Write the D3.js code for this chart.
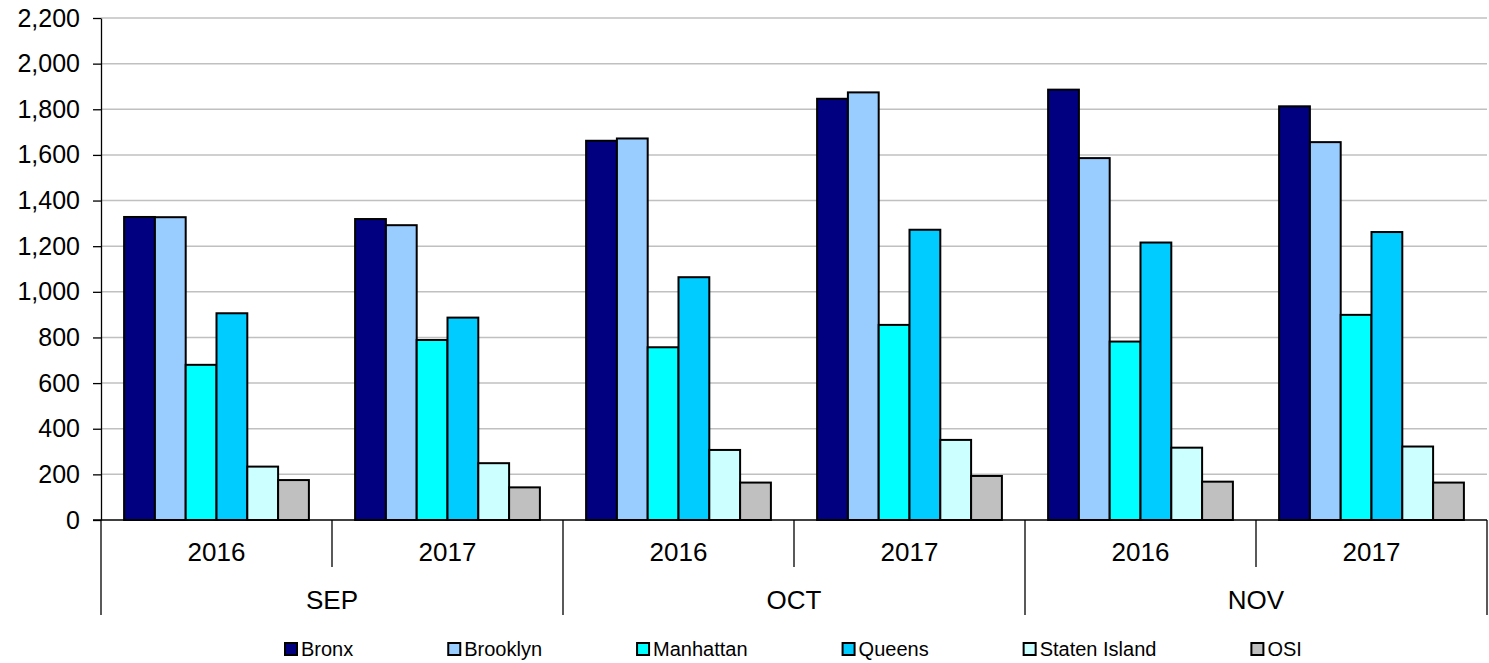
<!DOCTYPE html>
<meta charset="utf-8">
<html>
<head>
<script src="https://d3js.org/d3.v7.min.js"></script>
<style>
  body { margin: 0; background: #fff; }
  text { font-family: "Liberation Sans", Arial, sans-serif; fill: #000; }
</style>
</head>
<body>
<div id="chart"></div>
<script>

// data
var months = ["SEP", "OCT", "NOV"];
var years = ["2016", "2017"];
var series = ["Bronx", "Brooklyn", "Manhattan", "Queens", "Staten Island", "OSI"];

var bronx     = [1328, 1319, 1662, 1846, 1886, 1813];
var brooklyn  = [1327, 1292, 1672, 1874, 1586, 1656];
var manhattan = [680, 789, 757, 855, 782, 899];
var queens    = [906, 887, 1064, 1272, 1216, 1262];
var staten    = [234, 249, 307, 351, 317, 322];
var osi       = [175, 143, 164, 193, 168, 164];

var yTicks = [0, 200, 400, 600, 800, 1000, 1200, 1400, 1600, 1800, 2000, 2200];

var values = [bronx, brooklyn, manhattan, queens, staten, osi];
var colors = ["#000080", "#99ccff", "#00ffff", "#00ccff", "#ccffff", "#c0c0c0"];

var width = 1489,
    height = 663;
// note: "top" is a read-only window global, so use other names
var plotLeft = 101, plotRight = 1487, plotTop = 18, plotBottom = 520;

var svg = d3.select("#chart")
  .append("svg")
    .attr("width", width)
    .attr("height", height);

// one slot per month/year pair
var slots = [];
months.forEach(function(m) {
  years.forEach(function(yr) { slots.push(m + "|" + yr); });
});

var x0 = d3.scaleBand()
  .domain(slots)
  .range([plotLeft, plotRight]);

var x1 = d3.scaleBand()
  .domain(series)
  .range([0, x0.bandwidth()])
  .paddingInner(0)
  .paddingOuter(0.75);

var y = d3.scaleLinear()
  .domain([0, 2200])
  .range([plotBottom, plotTop]);

var color = d3.scaleOrdinal().domain(series).range(colors);

// gridlines
svg.append("g")
  .selectAll("line")
  .data(yTicks.filter(function(d) { return d > 0; }))
  .enter().append("line")
    .attr("x1", plotLeft)
    .attr("x2", plotRight)
    .attr("y1", function(d) { return y(d); })
    .attr("y2", function(d) { return y(d); })
    .attr("stroke", "#c0c0c0")
    .attr("stroke-width", 1.5);

// y axis
var yAxis = d3.axisLeft(y)
  .tickValues(yTicks)
  .tickSize(8)
  .tickSizeOuter(0)
  .tickPadding(13)
  .tickFormat(d3.format(","));

var gy = svg.append("g")
  .attr("transform", "translate(" + plotLeft + ",0)")
  .call(yAxis);
gy.select(".domain").attr("stroke", "#000").attr("stroke-width", 1.3);
gy.selectAll(".tick line").attr("stroke", "#000").attr("stroke-width", 1.3);
gy.selectAll(".tick text")
  .style("font-family", "'Liberation Sans', Arial, sans-serif")
  .style("font-size", "25px")
  .attr("fill", "#000");

// bars
var groups = svg.append("g")
  .selectAll("g")
  .data(slots)
  .enter().append("g")
    .attr("transform", function(d) { return "translate(" + x0(d) + ",0)"; });

groups.selectAll("rect")
  .data(function(d, i) {
    return series.map(function(s, j) { return { key: s, value: values[j][i] }; });
  })
  .enter().append("rect")
    .attr("x", function(d) { return x1(d.key); })
    .attr("y", function(d) { return y(d.value); })
    .attr("width", x1.bandwidth())
    .attr("height", function(d) { return y(0) - y(d.value); })
    .attr("fill", function(d) { return color(d.key); })
    .attr("stroke", "#000")
    .attr("stroke-width", 2);

// category axis: baseline, separators and labels
svg.append("line")
  .attr("x1", plotLeft - 8).attr("x2", plotRight)
  .attr("y1", plotBottom).attr("y2", plotBottom)
  .attr("stroke", "#000").attr("stroke-width", 1.3);

var xm = d3.scaleBand().domain(months).range([plotLeft, plotRight]);

// year separators (short) and month separators (long)
svg.append("g")
  .selectAll("line")
  .data(slots.slice(1))
  .enter().append("line")
    .attr("x1", function(d) { return x0(d); })
    .attr("x2", function(d) { return x0(d); })
    .attr("y1", plotBottom)
    .attr("y2", function(d) { return d.split("|")[1] === years[0] ? 615 : 567; })
    .attr("stroke", "#000").attr("stroke-width", 1.3);

svg.append("g")
  .selectAll("line")
  .data([plotLeft, plotRight])
  .enter().append("line")
    .attr("x1", function(d) { return d; })
    .attr("x2", function(d) { return d; })
    .attr("y1", plotBottom).attr("y2", 615)
    .attr("stroke", "#000").attr("stroke-width", 1.3);

svg.append("g")
  .selectAll("text")
  .data(slots)
  .enter().append("text")
    .attr("x", function(d) { return x0(d) + x0.bandwidth() / 2; })
    .attr("y", 561)
    .attr("text-anchor", "middle")
    .style("font-size", "26px")
    .text(function(d) { return d.split("|")[1]; });

svg.append("g")
  .selectAll("text")
  .data(months)
  .enter().append("text")
    .attr("x", function(d) { return xm(d) + xm.bandwidth() / 2; })
    .attr("y", 609)
    .attr("text-anchor", "middle")
    .style("font-size", "26px")
    .text(function(d) { return d; });

// legend
var legend = svg.append("g");
var lx = 285;
series.forEach(function(s) {
  var item = legend.append("g").attr("transform", "translate(" + lx + ",0)");
  item.append("rect")
    .attr("x", 0).attr("y", 643)
    .attr("width", 12).attr("height", 12)
    .attr("fill", color(s))
    .attr("stroke", "#000")
    .attr("stroke-width", 2);
  var t = item.append("text")
    .attr("x", 16).attr("y", 656)
    .style("font-size", "20px")
    .text(s);
  lx += 16 + t.node().getComputedTextLength() + 95;
});

</script>
</body>
</html>
